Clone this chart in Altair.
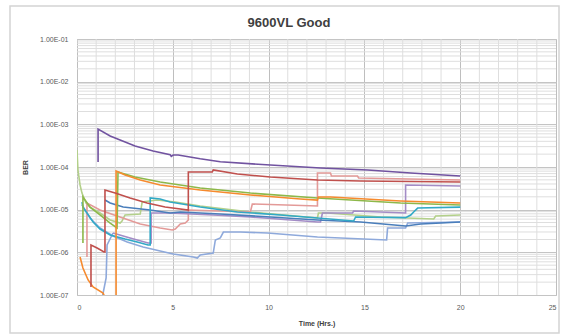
import altair as alt
import pandas as pd

title_text = "9600VL Good"
x_title = "Time (Hrs.)"
y_title = "BER"
x_ticks = [0, 5, 10, 15, 20, 25]
y_ticks = [1e-7, 1e-6, 1e-5, 1e-4, 1e-3, 1e-2, 1e-1]

purple_t = [1.10, 1.10, 1.73, 2.25, 3.03, 3.97, 4.86, 4.92, 5.02, 5.28, 6.43, 7.48, 10.09, 12.71, 15.17, 17.42, 20.0]
purple_ber = [1.31e-4, 7.76e-4, 5.32e-4, 4.30e-4, 3.10e-4, 2.37e-4, 1.95e-4, 1.78e-4, 1.91e-4, 1.91e-4, 1.56e-4, 1.33e-4, 1.11e-4, 9.46e-5, 8.51e-5, 7.23e-5, 6.15e-5]

red_t = [0.73, 0.73, 1.05, 1.41, 1.46, 1.46, 1.99, 2.77, 3.66, 4.60, 5.81, 5.81, 7.06, 7.11, 8.37, 10.09, 12.55, 14.80, 20.0]
red_ber = [1.54e-7, 1.49e-6, 1.26e-6, 1.02e-6, 1.02e-6, 2.89e-5, 2.45e-5, 1.88e-5, 1.43e-5, 1.15e-5, 9.82e-6, 7.64e-5, 7.64e-5, 8.51e-5, 6.86e-5, 5.82e-5, 4.95e-5, 4.70e-5, 4.45e-5]

pink_t = [0.52, 0.52, 1.20, 2.09, 3.30, 4.34, 4.97, 5.13, 5.39, 5.65, 5.81, 5.81, 9.05, 9.15, 12.55, 12.55, 13.23, 13.28, 14.64, 14.70, 20.0]
pink_ber = [7.78e-7, 1.43e-5, 9.82e-6, 7.09e-6, 4.61e-6, 3.72e-6, 3.33e-6, 3.52e-6, 4.61e-6, 4.86e-6, 5.73e-6, 9.82e-6, 8.81e-6, 1.36e-5, 1.22e-5, 7.23e-5, 7.23e-5, 6.15e-5, 6.15e-5, 5.52e-5, 4.95e-5]

lav_t = [1.88, 2.77, 3.71, 3.87, 3.87, 4.86, 7.11, 9.05, 12.55, 12.71, 12.81, 14.38, 14.44, 17.15, 17.15, 20.0]
lav_ber = [2.84e-6, 2.17e-6, 1.66e-6, 1.66e-6, 8.35e-6, 8.35e-6, 7.50e-6, 6.73e-6, 5.14e-6, 5.14e-6, 8.35e-6, 8.35e-6, 9.31e-6, 8.35e-6, 3.79e-5, 3.58e-5]

aqua_t = [0.26, 0.31, 0.52, 0.84, 1.20, 1.73, 2.51, 3.14, 3.71, 3.82, 3.82, 4.34, 4.86, 6.43, 8.37, 10.62, 12.55, 14.44, 14.54, 17.15, 17.42, 17.57, 17.78, 20.0]
aqua_ber = [1.51e-5, 1.15e-5, 8.35e-6, 5.14e-6, 3.52e-6, 2.55e-6, 2.05e-6, 1.75e-6, 1.49e-6, 1.49e-6, 1.88e-5, 1.78e-5, 1.51e-5, 1.15e-5, 8.81e-6, 7.50e-6, 6.38e-6, 5.42e-6, 6.73e-6, 6.50e-6, 7.50e-6, 8.81e-6, 1.09e-5, 1.15e-5]

blue_t = [1.46, 1.73, 2.41, 3.82, 4.86, 5.39, 7.48, 10.09, 12.55, 14.80, 17.15, 17.94, 18.99, 20.0]
blue_ber = [1.68e-5, 1.43e-5, 1.15e-5, 9.82e-6, 8.35e-6, 8.81e-6, 7.91e-6, 6.73e-6, 5.73e-6, 5.14e-6, 4.14e-6, 4.61e-6, 4.86e-6, 5.14e-6]

lblue_t = [0.26, 0.68, 1.20, 1.88, 2.62, 3.45, 4.34, 5.02, 6.07, 6.28, 6.43, 7.11, 7.22, 7.48, 7.64, 8.53, 9.94, 12.55, 16.16, 16.21, 17.15, 17.26, 20.0]
lblue_ber = [1.29e-5, 6.38e-6, 3.72e-6, 2.42e-6, 1.75e-6, 1.33e-6, 1.07e-6, 9.14e-7, 7.78e-7, 7.36e-7, 8.65e-7, 9.64e-7, 1.95e-6, 2.17e-6, 2.99e-6, 2.99e-6, 2.84e-6, 2.29e-6, 1.95e-6, 3.72e-6, 3.72e-6, 4.86e-6, 5.14e-6]

lblue2_t = [1.30, 1.52, 1.57, 1.88]
lblue2_ber = [8.0e-8, 2.50e-7, 1.49e-6, 2.84e-6]

orange_t = [0.16, 0.31, 0.58, 0.84, 1.36, 1.50, 2.04, 2.04, 2.51, 3.30, 4.34, 6.43, 9.05, 11.66, 12.55, 12.60, 13.23, 16.89, 20.0]
orange_ber = [7.78e-7, 4.30e-7, 2.25e-7, 1.54e-7, 1.11e-7, 8.0e-8, 8.0e-8, 8.05e-5, 6.49e-5, 4.95e-5, 3.79e-5, 2.89e-5, 2.21e-5, 1.78e-5, 1.68e-5, 1.98e-5, 1.98e-5, 1.60e-5, 1.43e-5]

green_t = [0.31, 0.31, 0.68, 1.20, 1.73, 2.09, 2.14, 3.03, 4.34, 6.43, 9.05, 12.55, 16.89, 20.0]
green_ber = [1.66e-6, 1.98e-5, 1.15e-5, 7.50e-6, 4.86e-6, 3.72e-6, 7.64e-5, 5.82e-5, 4.45e-5, 3.22e-5, 2.45e-5, 1.88e-5, 1.43e-5, 1.29e-5]

lgreen_t = [0.0, 0.05, 0.16, 0.26, 0.47, 0.68, 1.20, 1.73, 2.25, 2.35, 2.51, 3.30, 3.40, 4.18, 5.13, 6.43, 9.05, 12.55, 12.60, 13.08, 15.85, 18.62, 18.72, 20.0]
lgreen_ber = [2.50e-4, 8.51e-5, 3.79e-5, 2.45e-5, 1.43e-5, 1.15e-5, 8.35e-6, 5.73e-6, 4.86e-6, 5.42e-6, 7.50e-6, 7.91e-6, 1.51e-5, 1.68e-5, 1.51e-5, 1.22e-5, 8.81e-6, 6.38e-6, 8.35e-6, 8.35e-6, 6.73e-6, 6.04e-6, 7.09e-6, 7.50e-6]

series_names = ["Light blue", "Light blue 2", "Light green", "Pink", "Lavender", "Blue",
                "Aqua", "Green", "Orange", "Red", "Purple"]
series_colors = ["#8EA9DB", "#8EA9DB", "#B3D08A", "#E39A98", "#A38CC6", "#4A7EBB",
                 "#31A9C6", "#8DB84A", "#F68A2E", "#C0504D", "#7153A0"]
series_data = [(lblue_t, lblue_ber), (lblue2_t, lblue2_ber), (lgreen_t, lgreen_ber),
               (pink_t, pink_ber), (lav_t, lav_ber), (blue_t, blue_ber),
               (aqua_t, aqua_ber), (green_t, green_ber), (orange_t, orange_ber),
               (red_t, red_ber), (purple_t, purple_ber)]

rows = []
for k, (name, (ts, bs)) in enumerate(zip(series_names, series_data)):
    for i, (t, b) in enumerate(zip(ts, bs)):
        rows.append({"series": name, "k": k, "i": i, "t": t, "ber": b})
df = pd.DataFrame(rows)

minor_y = [m * 10.0 ** d for d in range(-7, -1) for m in range(2, 10)]
minor_x = [v for v in range(1, 25) if v % 5]

xscale = alt.Scale(domain=[0, 25], nice=False, zero=False)
yscale = alt.Scale(type="log", domain=[1e-7, 1e-1], nice=False)

xaxis = alt.Axis(values=x_ticks, grid=True, gridColor="#BEBEBE", ticks=False, domain=False,
                 labelFontSize=7, labelColor="#595959", labelPadding=8,
                 title=x_title, titleFontSize=7, titleFontWeight="bold", titleColor="#404040",
                 titleY=28, titleBaseline="middle")
yaxis = alt.Axis(values=y_ticks, grid=True, gridColor="#C4C4C4", ticks=False, domain=False,
                 labelExpr="'1.00E-0' + toString(-round(log(datum.value)/LN10))",
                 labelFontSize=7, labelColor="#595959", labelPadding=9,
                 title=y_title, titleFontSize=7, titleFontWeight="bold", titleColor="#404040",
                 titleX=-52, titleY=128, titleAngle=270, titleAlign="center", titleBaseline="middle")

grid_y = alt.Chart(pd.DataFrame({"ber": minor_y})).mark_rule(color="#DEDEDE", strokeWidth=1).encode(
    y=alt.Y("ber:Q", scale=yscale, axis=yaxis)
)
grid_x = alt.Chart(pd.DataFrame({"t": minor_x})).mark_rule(color="#DEDEDE", strokeWidth=1).encode(
    x=alt.X("t:Q", scale=xscale, axis=xaxis)
)
frame = alt.Chart(pd.DataFrame({"a": [0]})).mark_rect(fillOpacity=0, stroke="#D4D4D4", strokeWidth=1.5).encode(
    x=alt.value(-67), x2=alt.value(482), y=alt.value(-33), y2=alt.value(294)
)
title_mark = alt.Chart(pd.DataFrame({"label": [title_text]})).mark_text(
    fontSize=13, fontWeight="bold", font="Liberation Sans", color="#404040",
    align="center", baseline="alphabetic"
).encode(text="label:N", x=alt.value(212), y=alt.value(-12))

lines = alt.Chart(df).mark_line(strokeWidth=1.6, clip=True).encode(
    x=alt.X("t:Q", scale=xscale, axis=xaxis),
    y=alt.Y("ber:Q", scale=yscale, axis=yaxis),
    color=alt.Color("series:N", scale=alt.Scale(domain=series_names, range=series_colors), legend=None),
    detail="series:N",
    order=alt.Order("i:Q"),
)

chart = alt.layer(grid_y, grid_x, lines, frame, title_mark).properties(
    width=479, height=256,
    padding={"left": 77, "top": 39, "right": 5, "bottom": 40},
    autosize=alt.AutoSizeParams(type="none"),
).configure(font="Liberation Sans", background="white").configure_view(stroke="#C4C4C4")

chart.save("out.html", embed_options={"renderer": "svg", "actions": False})
